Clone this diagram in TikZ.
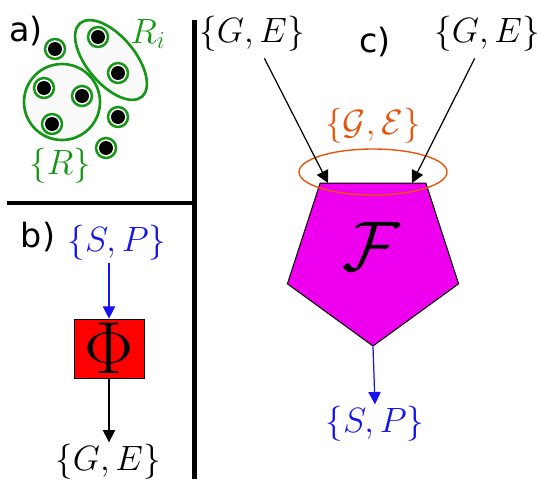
\RequirePackage{fix-cm}
\documentclass[tikz,border=0pt]{standalone}
\usepackage{fontspec}
\setsansfont{DejaVu Sans}
\usepackage{amsmath}
\usetikzlibrary{positioning,shapes.geometric,arrows.meta,calc}
\definecolor{ringgreen}{RGB}{22,150,22}
\definecolor{setorange}{RGB}{232,84,12}
\definecolor{flowblue}{RGB}{20,20,235}
\definecolor{boxred}{RGB}{255,0,0}
\definecolor{pentmag}{RGB}{238,0,238}
\tikzset{
  mathlbl/.style={font=\fontsize{20}{22}\selectfont, inner sep=1pt},
  panellbl/.style={font=\sffamily\fontsize{19}{21}\selectfont, inner sep=0pt},
  divider/.style={line width=2.4pt, black},
  arr/.style={-{Triangle[width=7pt,length=7pt]}, line width=0.7pt},
  cluster/.style={draw=ringgreen, line width=1.5pt, fill=gray!4},
  phibox/.style={draw=black, fill=boxred, line width=0.4pt, minimum width=1.4cm,
                 minimum height=1.18cm, inner sep=0pt, font=\fontsize{42}{44}\selectfont},
  pentnode/.style={draw=black, fill=pentmag, line width=0.6pt, regular polygon,
                   regular polygon sides=5, shape border rotate=180,
                   minimum size=3.6cm, inner sep=0pt}
}
\begin{document}
\begin{tikzpicture}[x=0.02cm,y=-0.02cm]
  \useasboundingbox (0,0) rectangle (537,480);

  % Dividers
  \draw[divider] (7,203) -- (194.5,203);
  \draw[divider] (194.5,20) -- (194.5,479);

  % a) clusters
  \node[panellbl] (la) at (26,31) {a)};
  \fill[cluster] (62,102) circle[radius=38];
  \draw[cluster, rotate around={-50:(111,60)}] (111,60) ellipse[x radius=48, y radius=24];
  \foreach \px/\py in {55/49, 98/37, 118/73, 44/88, 82/96, 52/124, 118/117, 106/148} {
    \fill[white] (\px,\py) circle[radius=11.5];
    \draw[ringgreen, line width=1.4pt] (\px,\py) circle[radius=10];
    \fill[black] (\px,\py) circle[radius=7];
  }
  \node[mathlbl, text=ringgreen] (ri) at (148,34) {$R_i$};
  \node[mathlbl, text=ringgreen] (rset) at (60,166) {$\{R\}$};

  % b) mapping
  \node[panellbl] (lb) at (38,237) {b)};
  \node[mathlbl, text=flowblue] (spin) at (117,243) {$\{S,P\}$};
  \node[phibox] (phi) at (109,348.5) {$\Phi$};
  \node[mathlbl] (geout) at (108,462) {$\{G,E\}$};
  \draw[arr, flowblue] (spin.south -| phi.north) -- (phi.north);
  \draw[arr] (phi.south) -- (geout.north -| phi.south);

  % c) functional
  \node[panellbl] (lc) at (375,42) {c)};
  \node[mathlbl] (geL) at (252,34) {$\{G,E\}$};
  \node[mathlbl] (geR) at (487,34) {$\{G,E\}$};
  \node[pentnode] (F) at (373,256) {};
  \node[font=\fontsize{40}{42}\selectfont] (ftxt) at (371,246) {$\mathcal{F}$};
  \node[mathlbl, text=setorange] (geset) at (373,126) {$\{\mathcal{G},\mathcal{E}\}$};
  \draw[setorange, line width=0.8pt] (373,172) ellipse[x radius=74, y radius=23];
  \coordinate (inL) at (328,183);
  \coordinate (inR) at (412,183);
  \draw[arr, shorten <=3pt] (geL) -- (inL);
  \draw[arr, shorten <=3pt] (geR) -- (inR);
  \node[mathlbl, text=flowblue] (spout) at (375,424) {$\{S,P\}$};
  \draw[arr, flowblue] (F.corner 1) -- (spout.north);
\end{tikzpicture}
\end{document}
